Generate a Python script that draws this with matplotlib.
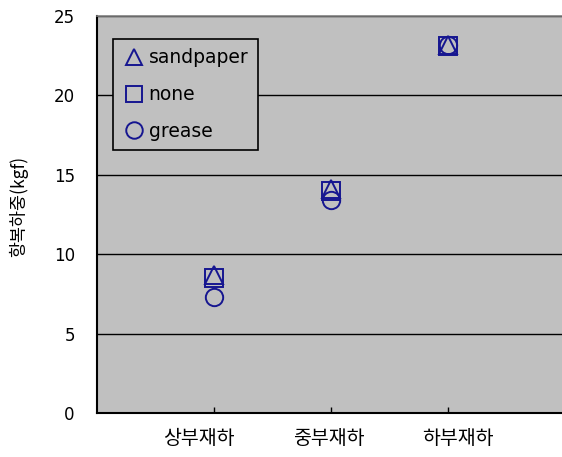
import matplotlib
matplotlib.use("Agg")
import matplotlib.pyplot as plt
import matplotlib.transforms as mtrans

plt.rcParams['font.family'] = ['DejaVu Sans', 'Noto Sans CJK KR']

categories = ["상부재하", "중부재하", "하부재하"]
sandpaper = [8.7, 14.1, 23.2]
none_vals = [8.5, 14.0, 23.1]
grease = [7.3, 13.4, 23.2]
yticks = [0, 5, 10, 15, 20, 25]
ylabel = "항복하중(kgf)"

navy = "#161690"
fig = plt.figure(figsize=(5.62, 4.57), dpi=100)
ax = fig.add_axes([97 / 562, (457 - 413) / 457, 465 / 562, 397 / 457])
ax.set_facecolor("#C0C0C0")

x = [1, 2, 3]
common = dict(linestyle="none", markerfacecolor="none", markeredgecolor=navy,
              markersize=12.5, markeredgewidth=1.4)
ax.plot(x, none_vals, marker="s", label="none", zorder=3, **common)
ax.plot(x, sandpaper, marker="^", label="sandpaper", zorder=4, **common)
ax.plot(x, grease, marker="o", label="grease", zorder=3, **common)

ax.set_xlim(0, 3.97)
ax.set_ylim(0, 25)
ax.set_yticks(yticks)
ax.set_yticklabels([str(v) for v in yticks], fontsize=12)
ax.tick_params(axis="y", length=0, pad=16)
ax.set_xticks(x)
ax.set_xticklabels(categories, fontsize=14, family=['Noto Sans CJK KR'])
ax.tick_params(axis="x", direction="in", length=4, width=1, pad=11)

# nudge the category labels sideways (points)
for lab, dx in zip(ax.get_xticklabels(), [-11, -2, 7]):
    lab.set_transform(lab.get_transform()
                      + mtrans.ScaledTranslation(dx / 72, 0, fig.dpi_scale_trans))

ax.yaxis.grid(True, color="black", linewidth=1)
ax.set_axisbelow(True)

for side in ("left", "bottom"):
    ax.spines[side].set_color("black")
    ax.spines[side].set_linewidth(1.5)
ax.spines["top"].set_color("#808080")
ax.spines["top"].set_linewidth(1.2)
ax.spines["right"].set_visible(False)

ax.set_ylabel(ylabel, fontsize=12.5, family=['Noto Sans CJK KR'])
ax.yaxis.set_label_coords(-0.148, 0.52)

handles, labels = ax.get_legend_handles_labels()
order = [1, 0, 2]
leg = ax.legend([handles[i] for i in order], [labels[i] for i in order],
                loc="upper left", bbox_to_anchor=(16 / 465, 1 - 23 / 397),
                fontsize=13.5, frameon=True, fancybox=False,
                facecolor="#C0C0C0", edgecolor="black", framealpha=1,
                handlelength=1.2, handletextpad=0.2, labelspacing=0.95,
                borderpad=0.5, borderaxespad=0, markerscale=0.95)
leg.get_frame().set_linewidth(1.2)

fig.savefig("out.png", dpi=100)
